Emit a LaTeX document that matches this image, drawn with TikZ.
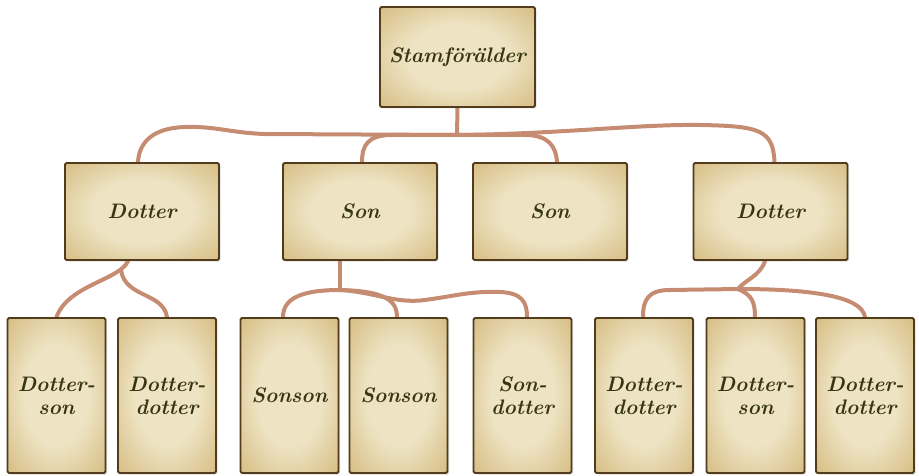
\documentclass[tikz,border=0pt]{standalone}
\usetikzlibrary{shadows,backgrounds}
\definecolor{parch}{RGB}{238,228,196}
\definecolor{parchedge}{RGB}{214,188,130}
\definecolor{burnt}{RGB}{82,60,28}
\definecolor{twigcol}{RGB}{198,140,114}
\definecolor{ink}{RGB}{56,54,18}
\pgfdeclareradialshading{parchment}{\pgfpoint{0bp}{0bp}}{color(0bp)=(parch); color(16bp)=(parch); color(36bp)=(parchedge); color(75bp)=(parchedge)}
\begin{document}
\begin{tikzpicture}[x=1pt,y=1pt,yscale=-1,
  card/.style={draw=burnt, line width=1.9pt, rounded corners=1.5pt, shading=parchment,
    text=ink, font=\fontsize{21}{23}\selectfont\bfseries\itshape, align=center,
    drop shadow={opacity=0.25,shadow xshift=1.5pt,shadow yshift=-1.5pt}},
  widecard/.style={card, minimum width=154pt, minimum height=97pt},
  tallcard/.style={card, minimum width=98pt, minimum height=155pt},
  branch/.style={draw=twigcol, line width=4pt, line cap=round}]
\useasboundingbox (0,0) rectangle (919,476);

%Root card
\node [card, minimum width=155pt, minimum height=100pt] (root) at (457.5,57) {Stamförälder};

%Children
\node [widecard] (d1) at (142,211.5) {Dotter};
\node [widecard] (s1) at (360,211.5) {Son};
\node [widecard] (s2) at (550,211.5) {Son};
\node [widecard] (d2) at (770.5,211.5) {Dotter};

%Grandchildren
\node [tallcard] (g1) at (56.5,395.5) {Dotter-\\son};
\node [tallcard] (g2) at (167,395.5) {Dotter-\\dotter};
\node [tallcard] (g3) at (289.5,395.5) {Sonson};
\node [tallcard] (g4) at (398.5,395.5) {Sonson};
\node [tallcard] (g5) at (522.5,395.5) {Son-\\dotter};
\node [tallcard] (g6) at (644,395.5) {Dotter-\\dotter};
\node [tallcard] (g7) at (755.5,395.5) {Dotter-\\son};
\node [tallcard] (g8) at (865,395.5) {Dotter-\\dotter};

\begin{pgfonlayer}{background}
%Branches from root
\coordinate (j0) at (457,135);
\draw [branch] (root.south) -- (j0);
\draw [branch] (j0) -- (265,134) .. controls (232,133) and (215,126) .. (185,127) .. controls (152,128) and (139,143) .. ([xshift=-4pt]d1.north);
\draw [branch] (j0) -- (392,135) .. controls (368,135) and (362,145) .. ([xshift=2pt]s1.north);
\draw [branch] (j0) -- (525,135) .. controls (548,135) and (556,146) .. ([xshift=7pt]s2.north);
\draw [branch] (j0) .. controls (560,134) and (640,124) .. (700,125) .. controls (760,126) and (773,130) .. ([xshift=4pt]d2.north);

%Branches from Dotter (left)
\coordinate (j1) at (121,270);
\draw [branch] ([xshift=-14pt]d1.south) .. controls (120,280) and (68,285) .. (g1.north);
\draw [branch] (j1) .. controls (125,298) and (163,292) .. (g2.north);

%Branches from Son
\coordinate (j2) at (340,290);
\draw [branch] ([xshift=-20pt]s1.south) -- (j2);
\draw [branch] (j2) .. controls (298,290) and (283,300) .. ([xshift=-6.5pt]g3.north);
\draw [branch] (j2) .. controls (384,291) and (397,300) .. ([xshift=-1.5pt]g4.north);
\draw [branch] (j2) .. controls (375,292) and (395,304) .. (425,300) .. controls (455,296) and (470,291) .. (500,292) .. controls (522,293) and (527,302) .. ([xshift=4.5pt]g5.north);

%Branches from Dotter (right)
\coordinate (j3) at (738,289);
\draw [branch] ([xshift=-5.5pt]d2.south) .. controls (760,276) and (745,280) .. (j3);
\draw [branch] (j3) -- (670,290) .. controls (648,290) and (643,300) .. ([xshift=-1pt]g6.north);
\draw [branch] (j3) .. controls (752,295) and (755,302) .. ([xshift=-0.5pt]g7.north);
\draw [branch] (j3) .. controls (810,289) and (862,296) .. (g8.north);
\end{pgfonlayer}

\end{tikzpicture}
\end{document}
